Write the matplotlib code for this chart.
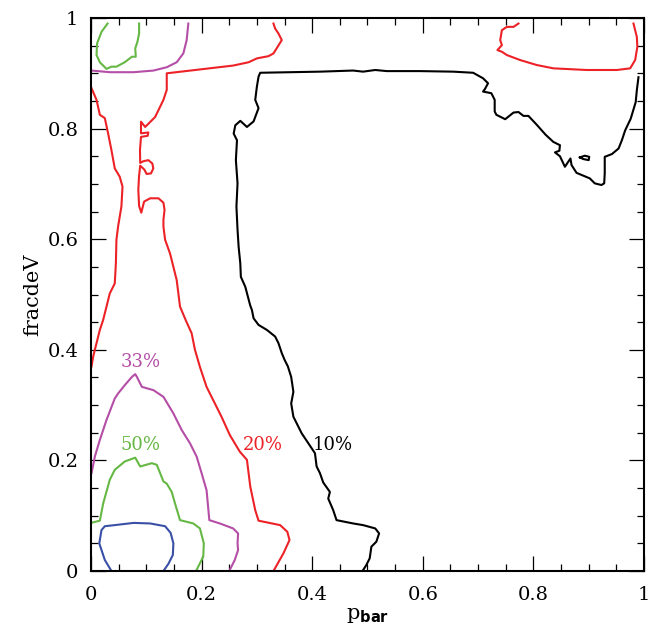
import matplotlib
matplotlib.use("Agg")
import matplotlib.pyplot as plt
from matplotlib.ticker import MultipleLocator, FuncFormatter

# -- colours --
BLACK   = "#000000"
RED     = "#ec2227"
MAGENTA = "#b54ea6"
GREEN   = "#66b845"
BLUE    = "#3a50a6"

plt.rcParams["font.family"] = ["DejaVu Serif"]
plt.rcParams["mathtext.fontset"] = "custom"
plt.rcParams["mathtext.rm"] = "DejaVu Serif"
plt.rcParams["mathtext.bf"] = "DejaVu Sans:bold"

# -- contour paths (p_bar, fracdeV) --
c10_x = [0.491, 0.498, 0.504, 0.507, 0.516, 0.521, 0.514, 0.492, 0.474, 0.444,
         0.438, 0.429, 0.432, 0.420, 0.414, 0.408, 0.405, 0.393, 0.381, 0.366,
         0.362, 0.366, 0.362, 0.356, 0.350, 0.345, 0.339, 0.333, 0.318, 0.303,
         0.294, 0.291, 0.288, 0.279, 0.271, 0.270, 0.267, 0.265, 0.263, 0.265,
         0.262, 0.264, 0.258, 0.261, 0.270, 0.282, 0.294, 0.303, 0.297, 0.300,
         0.303, 0.306, 0.414, 0.474, 0.492, 0.514, 0.535, 0.595, 0.655, 0.691,
         0.709, 0.718, 0.712, 0.709, 0.724, 0.730, 0.730, 0.733, 0.749, 0.764,
         0.773, 0.782, 0.791, 0.806, 0.822, 0.836, 0.848, 0.847, 0.839, 0.848,
         0.857, 0.863, 0.867, 0.869, 0.878, 0.890, 0.902, 0.911, 0.923, 0.928,
         0.929, 0.929, 0.942, 0.954, 0.960, 0.966, 0.976, 0.985, 0.987, 0.990]
c10_y = [0.000, 0.011, 0.023, 0.044, 0.053, 0.068, 0.077, 0.083, 0.086, 0.092,
         0.110, 0.131, 0.143, 0.160, 0.177, 0.189, 0.213, 0.231, 0.249, 0.279,
         0.303, 0.324, 0.351, 0.370, 0.382, 0.394, 0.412, 0.424, 0.436, 0.445,
         0.457, 0.472, 0.480, 0.514, 0.532, 0.556, 0.586, 0.617, 0.659, 0.701,
         0.743, 0.779, 0.791, 0.806, 0.814, 0.803, 0.813, 0.837, 0.852, 0.876,
         0.894, 0.901, 0.903, 0.905, 0.903, 0.906, 0.904, 0.904, 0.903, 0.901,
         0.891, 0.882, 0.871, 0.867, 0.864, 0.852, 0.831, 0.825, 0.817, 0.829,
         0.830, 0.823, 0.823, 0.807, 0.789, 0.776, 0.770, 0.760, 0.757, 0.750,
         0.731, 0.740, 0.746, 0.734, 0.720, 0.715, 0.710, 0.701, 0.698, 0.701,
         0.719, 0.749, 0.754, 0.764, 0.779, 0.797, 0.818, 0.848, 0.869, 0.893]

c10_loop_x = [0.884, 0.893, 0.901, 0.900, 0.890, 0.884]
c10_loop_y = [0.748, 0.751, 0.749, 0.743, 0.745, 0.748]

c20_x = [0.330, 0.348, 0.359, 0.355, 0.342, 0.303, 0.297, 0.288, 0.282, 0.269,
         0.251, 0.236, 0.218, 0.209, 0.197, 0.188, 0.182, 0.172, 0.161, 0.155,
         0.149, 0.143, 0.134, 0.131, 0.131, 0.133, 0.131, 0.122, 0.107, 0.096,
         0.091, 0.087, 0.0856, 0.0868, 0.089, 0.0964, 0.1006, 0.1085, 0.1127, 0.1109,
         0.1037, 0.0946, 0.089, 0.0886, 0.0904, 0.1025, 0.1037, 0.0904, 0.0904, 0.098,
         0.116, 0.131, 0.137, 0.137, 0.197, 0.257, 0.285, 0.300, 0.321, 0.330,
         0.345, 0.339, 0.333, 0.330]
c20_y = [0.000, 0.032, 0.056, 0.071, 0.083, 0.091, 0.110, 0.153, 0.201, 0.216,
         0.246, 0.279, 0.315, 0.333, 0.369, 0.400, 0.430, 0.452, 0.478, 0.526,
         0.550, 0.574, 0.599, 0.623, 0.635, 0.653, 0.666, 0.674, 0.674, 0.668,
         0.648, 0.660, 0.689, 0.713, 0.733, 0.726, 0.718, 0.719, 0.728, 0.737,
         0.743, 0.741, 0.738, 0.761, 0.785, 0.787, 0.793, 0.7915, 0.8125, 0.803,
         0.821, 0.852, 0.870, 0.900, 0.907, 0.914, 0.920, 0.927, 0.931, 0.936,
         0.960, 0.972, 0.981, 0.990]

c20_left_x = [0.001, 0.004, 0.010, 0.016, 0.022, 0.028, 0.034, 0.043, 0.045, 0.046,
              0.049, 0.055, 0.057, 0.052, 0.043, 0.037, 0.031, 0.025, 0.016, 0.010,
              0.001]
c20_left_y = [0.370, 0.388, 0.412, 0.436, 0.454, 0.478, 0.502, 0.520, 0.556, 0.599,
              0.623, 0.659, 0.695, 0.713, 0.728, 0.761, 0.791, 0.819, 0.825, 0.852,
              0.873]

c20_top_x = [0.773, 0.764, 0.752, 0.743, 0.740, 0.743, 0.735, 0.743, 0.752, 0.776,
             0.806, 0.836, 0.896, 0.951, 0.975, 0.984, 0.988, 0.987, 0.981]
c20_top_y = [0.990, 0.984, 0.984, 0.978, 0.960, 0.951, 0.942, 0.939, 0.933, 0.924,
             0.915, 0.909, 0.906, 0.906, 0.909, 0.924, 0.948, 0.966, 0.990]

c33_x = [0.001, 0.007, 0.016, 0.028, 0.043, 0.049, 0.061, 0.074, 0.080, 0.083,
         0.092, 0.113, 0.131, 0.149, 0.164, 0.179, 0.191, 0.200, 0.209, 0.214,
         0.233, 0.257, 0.266, 0.265, 0.266, 0.260, 0.250]
c33_y = [0.177, 0.207, 0.237, 0.273, 0.312, 0.321, 0.336, 0.351, 0.356, 0.351,
         0.333, 0.327, 0.315, 0.285, 0.255, 0.231, 0.207, 0.177, 0.146, 0.092,
         0.086, 0.077, 0.068, 0.050, 0.038, 0.020, 0.000]

c33_top_x = [0.001, 0.034, 0.077, 0.113, 0.137, 0.155, 0.167, 0.173, 0.176]
c33_top_y = [0.905, 0.902, 0.902, 0.905, 0.911, 0.920, 0.936, 0.960, 0.990]

c50_x = [0.000, 0.016, 0.022, 0.034, 0.043, 0.061, 0.080, 0.089, 0.110, 0.119,
         0.131, 0.137, 0.146, 0.152, 0.161, 0.185, 0.197, 0.204, 0.203, 0.197,
         0.190]
c50_y = [0.087, 0.091, 0.122, 0.165, 0.183, 0.198, 0.205, 0.189, 0.195, 0.192,
         0.162, 0.158, 0.143, 0.122, 0.092, 0.086, 0.077, 0.050, 0.026, 0.014,
         0.000]

c50_top_x = [0.030, 0.019, 0.011, 0.010, 0.016, 0.028, 0.037, 0.046, 0.061, 0.074,
             0.081, 0.080, 0.084, 0.087, 0.087]
c50_top_y = [0.990, 0.975, 0.954, 0.933, 0.920, 0.908, 0.912, 0.912, 0.920, 0.930,
             0.930, 0.945, 0.957, 0.972, 0.990]

c68_x = [0.037, 0.025, 0.015, 0.019, 0.025, 0.043, 0.077, 0.107, 0.134, 0.144,
         0.149, 0.148, 0.140, 0.131]
c68_y = [0.000, 0.020, 0.050, 0.074, 0.081, 0.083, 0.087, 0.086, 0.081, 0.069,
         0.050, 0.029, 0.013, 0.000]

labels = ["10%", "20%", "33%", "50%"]
label_x = [0.438, 0.311, 0.089, 0.089]
label_y = [0.228, 0.228, 0.378, 0.228]
label_c = [BLACK, RED, MAGENTA, GREEN]

fig = plt.figure(figsize=(6.49, 6.32), dpi=100)
ax = fig.add_axes([0.1402, 0.0965, 0.8521, 0.8750])

lw = 1.5
ax.plot(c10_x, c10_y, color=BLACK, lw=lw)
ax.plot(c10_loop_x, c10_loop_y, color=BLACK, lw=lw)
ax.plot(c20_x, c20_y, color=RED, lw=lw)
ax.plot(c20_left_x, c20_left_y, color=RED, lw=lw)
ax.plot(c20_top_x, c20_top_y, color=RED, lw=lw)
ax.plot(c33_x, c33_y, color=MAGENTA, lw=lw)
ax.plot(c33_top_x, c33_top_y, color=MAGENTA, lw=lw)
ax.plot(c50_x, c50_y, color=GREEN, lw=lw)
ax.plot(c50_top_x, c50_top_y, color=GREEN, lw=lw)
ax.plot(c68_x, c68_y, color=BLUE, lw=lw)

for t, x, y, c in zip(labels, label_x, label_y, label_c):
    ax.text(x, y, t, color=c, fontsize=13, ha="center", va="center")

ax.set_xlim(0, 1)
ax.set_ylim(0, 1)
ax.xaxis.set_major_locator(MultipleLocator(0.2))
ax.xaxis.set_minor_locator(MultipleLocator(0.05))
ax.yaxis.set_major_locator(MultipleLocator(0.2))
ax.yaxis.set_minor_locator(MultipleLocator(0.05))
fmt = FuncFormatter(lambda v, _: f"{v:g}")
ax.xaxis.set_major_formatter(fmt)
ax.yaxis.set_major_formatter(fmt)
ax.tick_params(which="both", direction="in", top=True, right=True, width=0.9)
ax.tick_params(which="major", length=10.5, labelsize=14)
ax.tick_params(axis="x", which="major", pad=11)
ax.tick_params(axis="y", which="major", pad=9)
ax.tick_params(which="minor", length=5.2)
for s in ax.spines.values():
    s.set_linewidth(1.5)

ax.set_xlabel(r"p$_{\mathbf{bar}}$", fontsize=15, labelpad=1)
ax.set_ylabel("fracdeV", fontsize=15, labelpad=4)

fig.savefig("out.png", dpi=100)
